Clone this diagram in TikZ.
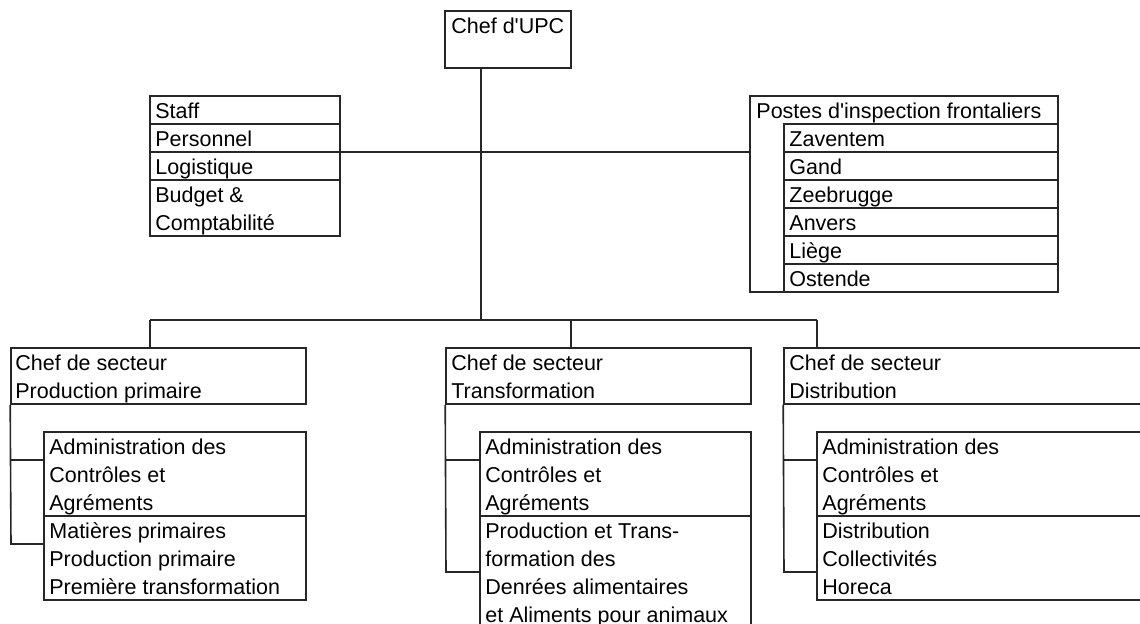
\documentclass[tikz,border=0pt]{standalone}
\usepackage{fontspec}
\setmainfont{Liberation Sans}[Ligatures=TeXOff]
\usetikzlibrary{fit}
\begin{document}
\begin{tikzpicture}[x=0.5pt,y=-0.5pt,
  box/.style={draw=black!85, line width=0.8pt, inner sep=0pt},
  txt/.style={anchor=base west, inner sep=0pt, font=\fontsize{10.75}{14}\selectfont},
  ln/.style={draw=black!85, line width=0.8pt}]
\useasboundingbox (0,0) rectangle (1140,623);
\clip (0,0) rectangle (1140,623);
% Chef d'UPC
\node[box, fit={(445,11) (571,68)}] (upc) {};
\node[txt] (upct) at (451,33) {Chef d'UPC};
% Staff
\node[box, fit={(150,96) (340,124)}] (st1) {};
\node[box, fit={(150,124) (340,152)}] (st2) {};
\node[box, fit={(150,152) (340,180)}] (st3) {};
\node[box, fit={(150,180) (340,236)}] (st4) {};
\node[txt] (st1t) at (155,118) {Staff};
\node[txt] (st2t) at (155,146) {Personnel};
\node[txt] (st3t) at (155,174) {Logistique};
\node[txt] (st4t) at (155,202) {Budget \&};
\node[txt] (st4u) at (155,230) {Comptabilité};
% Postes
\node[box, fit={(750,96) (1058,292)}] (pif) {};
\node[txt] (pift) at (756,118) {Postes d'inspection frontaliers};
\foreach \n/\t [count=\k from 0] in {p1/Zaventem,p2/Gand,p3/Zeebrugge,p4/Anvers,p5/Liège,p6/Ostende}{
  \node[box, fit={(784,124+28*\k) (1058,152+28*\k)}] (\n) {};
  \node[txt] (\n t) at (789,146+28*\k) {\t};
}
% Sector boxes
\node[box, fit={(11,348) (306,404)}] (c1) {};
\node[txt] (c1t) at (15,370) {Chef de secteur};
\node[txt] (c1u) at (15,398) {Production primaire};
\node[box, fit={(44,432) (306,516)}] (s1a) {};
\node[box, fit={(44,516) (306,600)}] (s1b) {};
\node[txt] (s1a1) at (49,454) {Administration des};
\node[txt] (s1a2) at (49,482) {Contrôles et};
\node[txt] (s1a3) at (49,510) {Agréments};
\node[txt] (s1b1) at (49,538) {Matières primaires};
\node[txt] (s1b2) at (49,566) {Production primaire};
\node[txt] (s1b3) at (49,594) {Première transformation};

\node[box, fit={(446,348) (751,404)}] (c2) {};
\node[txt] (c2t) at (451,370) {Chef de secteur};
\node[txt] (c2u) at (451,398) {Transformation};
\node[box, fit={(480,432) (751,516)}] (s2a) {};
\node[box, fit={(480,516) (751,628)}] (s2b) {};
\node[txt] (s2a1) at (485,454) {Administration des};
\node[txt] (s2a2) at (485,482) {Contrôles et};
\node[txt] (s2a3) at (485,510) {Agréments};
\node[txt] (s2b1) at (485,538) {Production et Trans-};
\node[txt] (s2b2) at (485,566) {formation des};
\node[txt] (s2b3) at (485,594) {Denrées alimentaires};
\node[txt] (s2b4) at (485,622) {et Aliments pour animaux};

\node[box, fit={(784,348) (1150,404)}] (c3) {};
\node[txt] (c3t) at (789,370) {Chef de secteur};
\node[txt] (c3u) at (789,398) {Distribution};
\node[box, fit={(817,432) (1150,516)}] (s3a) {};
\node[box, fit={(817,516) (1150,600)}] (s3b) {};
\node[txt] (s3a1) at (822,454) {Administration des};
\node[txt] (s3a2) at (822,482) {Contrôles et};
\node[txt] (s3a3) at (822,510) {Agréments};
\node[txt] (s3b1) at (822,538) {Distribution};
\node[txt] (s3b2) at (822,566) {Collectivités};
\node[txt] (s3b3) at (822,594) {Horeca};
% connectors
\coordinate (tj) at (481,152);
\coordinate (bj) at (481,320);
\coordinate (d1) at (150,320);
\coordinate (d2) at (571,320);
\coordinate (d3) at (817,320);
\draw[ln] (upc.south -| tj) -- (bj);
\draw[ln] (tj -| st3.east) -- (tj -| pif.west);
\draw[ln] (d1) -- (d3);
\draw[ln] (d1) -- (d1 |- c1.north);
\draw[ln] (d2) -- (d2 |- c2.north);
\draw[ln] (d3) -- (d3 |- c3.north);
\coordinate (k1a) at (11,460);  \coordinate (k1b) at (11,544);
\coordinate (k2a) at (446,460); \coordinate (k2b) at (446,572);
\coordinate (k3a) at (784,460); \coordinate (k3b) at (784,572);
\draw[ln] (c1.south west) -- (k1b) -- (k1b -| s1b.west);
\draw[ln] (k1a) -- (k1a -| s1a.west);
\draw[ln] (c2.south west) -- (k2b) -- (k2b -| s2b.west);
\draw[ln] (k2a) -- (k2a -| s2a.west);
\draw[ln] (c3.south west) -- (k3b) -- (k3b -| s3b.west);
\draw[ln] (k3a) -- (k3a -| s3a.west);
\end{tikzpicture}
\end{document}
